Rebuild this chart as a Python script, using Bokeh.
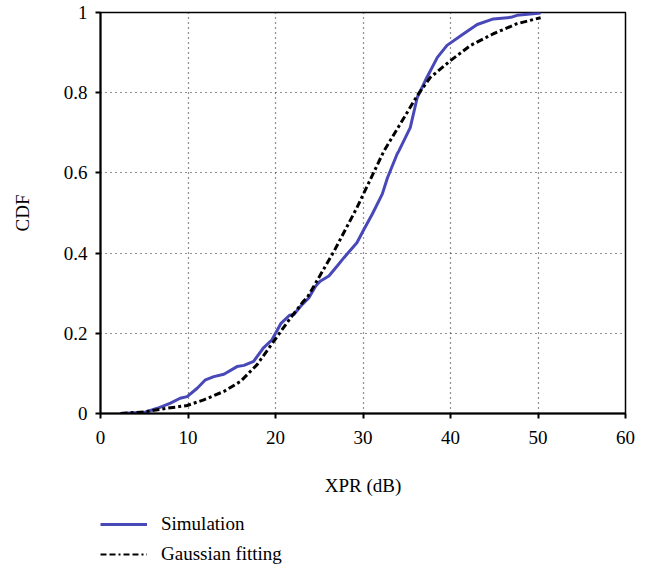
from bokeh.plotting import figure
from bokeh.models import Legend, LegendItem, FixedTicker, Range1d
from bokeh.layouts import column
from bokeh.embed import file_html
from bokeh.resources import INLINE

# Data
sim_x = [2.3, 5.1, 6.5, 8.0, 9.1, 9.9, 11.05, 12.0, 12.95, 14.1, 15.6, 16.4, 17.5,
         18.6, 19.6, 20.6, 21.6, 22.1, 22.9, 23.8, 24.6, 25.1, 26.1, 27.05, 27.8,
         29.3, 30.1, 31.05, 32.2, 32.8, 33.9, 34.1, 35.4, 36.2, 37.3, 38.5, 39.6,
         41.5, 43.05, 44.9, 46.9, 47.6, 50.3]
sim_y = [0.0, 0.003, 0.013, 0.026, 0.038, 0.042, 0.063, 0.084, 0.092, 0.098, 0.117,
         0.12, 0.13, 0.163, 0.184, 0.224, 0.245, 0.247, 0.268, 0.288, 0.318, 0.33,
         0.343, 0.368, 0.388, 0.426, 0.459, 0.497, 0.547, 0.588, 0.647, 0.655, 0.713,
         0.788, 0.838, 0.888, 0.918, 0.947, 0.97, 0.984, 0.988, 0.993, 0.999]

gauss_x = [2.3, 4.95, 7.6, 9.9, 11.8, 14.1, 16.0, 17.9, 19.8, 21.7, 23.2, 23.6, 26.7,
           29.3, 32.4, 34.7, 36.2, 37.7, 40.0, 42.3, 44.9, 47.6, 50.3]
gauss_y = [0.0, 0.004, 0.013, 0.02, 0.034, 0.055, 0.08, 0.122, 0.18, 0.238, 0.28,
           0.288, 0.405, 0.513, 0.655, 0.738, 0.793, 0.838, 0.88, 0.918, 0.947, 0.972,
           0.987]

x_ticks = [0, 10, 20, 30, 40, 50, 60]
y_ticks = [0, 0.2, 0.4, 0.6, 0.8, 1]
y_tick_labels = ["0", "0.2", "0.4", "0.6", "0.8", "1"]

FONT = "Liberation Serif"
SIM_COLOR = "#4848b8"
SIM_WIDTH = 3
GAU_DASH = "7 3 3 3"

p = figure(width=659, height=505, output_backend="svg", toolbar_location=None,
           x_range=Range1d(0, 60), y_range=Range1d(0, 1),
           min_border_left=100, min_border_right=34, min_border_top=12,
           min_border_bottom=92)

p.outline_line_color = "black"
p.outline_line_width = 1.5

for ax in (p.xaxis[0], p.yaxis[0]):
    ax.axis_line_width = 2
    ax.axis_line_color = "black"
    ax.major_tick_line_width = 2
    ax.major_tick_line_color = "black"
    ax.major_tick_in = 0
    ax.major_tick_out = 5
    ax.minor_tick_line_color = None
    ax.major_label_text_font = FONT
    ax.major_label_text_font_size = "19px"
    ax.major_label_text_color = "black"
    ax.axis_label_text_font = FONT
    ax.axis_label_text_font_size = "19px"
    ax.axis_label_text_font_style = "normal"
    ax.axis_label_text_color = "black"

p.xaxis.ticker = FixedTicker(ticks=x_ticks)
p.yaxis.ticker = FixedTicker(ticks=y_ticks)
p.yaxis.major_label_overrides = {t: l for t, l in zip(y_ticks, y_tick_labels)}
p.xaxis.major_label_standoff = 12
p.yaxis.major_label_standoff = 8
p.xaxis.axis_label = "XPR (dB)"
p.yaxis.axis_label = "CDF"
p.xaxis.axis_label_standoff = 28
p.yaxis.axis_label_standoff = 28

for g in (p.xgrid[0], p.ygrid[0]):
    g.grid_line_color = "#222222"
    g.grid_line_dash = "1 4"
    g.grid_line_width = 1.2

p.line(sim_x, sim_y, line_color=SIM_COLOR, line_width=SIM_WIDTH)
p.line(gauss_x, gauss_y, line_color="black", line_width=3, line_dash=GAU_DASH)

# Legend strip below the chart (its sample lines lie outside its visible range)
lg = figure(width=659, height=62, output_backend="svg", toolbar_location=None,
            x_axis_type=None, y_axis_type=None,
            x_range=Range1d(0, 1), y_range=Range1d(0, 1),
            min_border_left=0, min_border_right=0, min_border_top=0,
            min_border_bottom=0)
lg.outline_line_color = None
lg.xgrid.visible = False
lg.ygrid.visible = False
l_sim = lg.line([5, 6], [5, 6], line_color=SIM_COLOR, line_width=SIM_WIDTH)
l_gau = lg.line([5, 6], [5, 6], line_color="black", line_width=2,
                line_dash="6 3 6 3 2 3")

legend = Legend(items=[LegendItem(label="Simulation", renderers=[l_sim]),
                       LegendItem(label="Gaussian fitting", renderers=[l_gau])],
                location=(0, 2), orientation="vertical")
legend.padding = 0
legend.margin = 0
legend.spacing = 8
legend.glyph_width = 47
legend.glyph_height = 20
legend.label_height = 20
legend.label_standoff = 14
legend.label_text_font = FONT
legend.label_text_font_size = "19px"
legend.label_text_color = "black"
legend.border_line_alpha = 0
legend.background_fill_alpha = 0
lg.add_layout(legend, "center")

layout = column(p, lg, spacing=0)
open("out.html", "w").write(file_html(layout, INLINE))
